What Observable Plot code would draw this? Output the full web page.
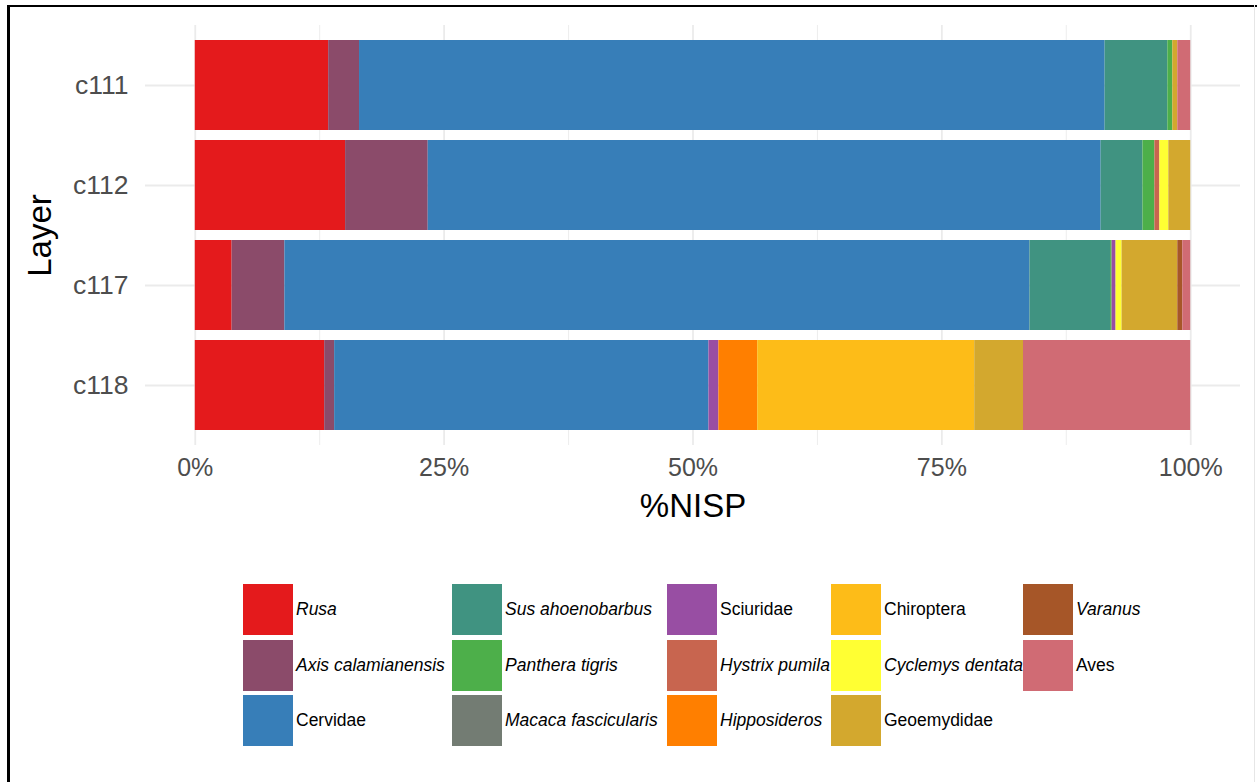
<!DOCTYPE html>
<html>
<head>
<meta charset="utf-8">
<script src="https://cdn.jsdelivr.net/npm/d3@7"></script>
<script src="https://cdn.jsdelivr.net/npm/@observablehq/plot@0.6"></script>
<style>
  html, body { margin: 0; padding: 0; background: #fff; }
  #wrap { position: relative; width: 1257px; height: 782px; overflow: hidden; background: #fff; font-family: "Liberation Sans", Arial, sans-serif; }
  #chart { position: absolute; left: 0; top: 0; }
  .bt { position: absolute; left: 7px; top: 5px; width: 1250px; height: 2px; background: #000; }
  .bl { position: absolute; left: 7px; top: 5px; width: 3px; height: 777px; background: #000; }
  .br { position: absolute; left: 1254px; top: 5px; width: 1px; height: 777px; background: #e6e6e6; }
  .key { position: absolute; width: 50px; height: 51px; }
  .lab { position: absolute; font-size: 17.5px; color: #000; line-height: 20px; white-space: nowrap; }
  .it { font-style: italic; }
</style>
</head>
<body>
<div id="wrap">
  <div id="chart"></div>
  <div id="legend"></div>
  <div class="bt"></div><div class="bl"></div><div class="br"></div>
</div>
<script>
// ---- data ----
const layers = ["c111", "c112", "c117", "c118"];
const taxa = ["Rusa", "Axis calamianensis", "Cervidae", "Sus ahoenobarbus", "Panthera tigris",
  "Macaca fascicularis", "Sciuridae", "Hystrix pumila", "Hipposideros", "Chiroptera",
  "Cyclemys dentata", "Geoemydidae", "Varanus", "Aves"];
const italicTaxa = ["Rusa", "Axis calamianensis", "Sus ahoenobarbus", "Panthera tigris",
  "Macaca fascicularis", "Hystrix pumila", "Hipposideros", "Cyclemys dentata", "Varanus"];
const taxaColors = ["#E41A1C", "#8B4B6A", "#377EB8", "#409381", "#4DAF4A",
  "#737C73", "#984EA3", "#C8654F", "#FF7F00", "#FDBC18",
  "#FFFF33", "#D3A82E", "#A65628", "#D06B74"];
// %NISP per layer, in taxa order
const c111 = [13.4, 3.1, 74.9, 6.3, 0.5, 0, 0, 0, 0, 0, 0, 0.5, 0, 1.3];
const c112 = [15.1, 8.3, 67.6, 4.2, 1.2, 0, 0, 0.5, 0, 0, 0.9, 2.2, 0, 0];
const c117 = [3.7, 5.3, 74.85, 8.1, 0.15, 0, 0.4, 0, 0, 0, 0.6, 5.6, 0.5, 0.8];
const c118 = [13.0, 1.0, 37.6, 0, 0, 0, 1.0, 0, 3.9, 21.8, 0, 4.9, 0, 16.8];
const xMajor = [0, 25, 50, 75, 100];
const xMinor = [12.5, 37.5, 62.5, 87.5];

const valuesByLayer = { c111, c112, c117, c118 };
const data = [];
for (const layer of layers) {
  taxa.forEach((t, i) => data.push({ layer, taxon: t, value: valuesByLayer[layer][i] }));
}

const plot = Plot.plot({
  width: 1257,
  height: 540,
  marginLeft: 145,
  marginRight: 17,
  marginTop: 25,
  marginBottom: 95,
  style: { fontFamily: "'Liberation Sans', Arial, sans-serif", color: "#4d4d4d", background: "transparent", overflow: "visible" },
  x: { domain: [-5, 105] },
  y: { domain: layers, paddingInner: 0.1, paddingOuter: 0.15 },
  color: { domain: taxa, range: taxaColors },
  marks: [
    Plot.ruleX(xMinor, { stroke: "#ededed", strokeWidth: 1 }),
    Plot.ruleX(xMajor, { stroke: "#ebebeb", strokeWidth: 1.8 }),
    Plot.ruleY(layers, { y: d => d, stroke: "#ebebeb", strokeWidth: 1.8 }),
    Plot.barX(data, { x: "value", y: "layer", fill: "taxon" }),
    Plot.axisX({ ticks: xMajor, tickFormat: d => d + "%", tickSize: 0, tickPadding: 13, fontSize: 25, label: null }),
    Plot.axisY({ tickSize: 0, tickPadding: 17, fontSize: 26.5, label: null }),
    Plot.text(["%NISP"], { text: d => d, frameAnchor: "bottom", lineAnchor: "middle", textAnchor: "middle", dy: 61, fontSize: 33, fill: "#000" }),
    Plot.text(["Layer"], { text: d => d, frameAnchor: "left", lineAnchor: "middle", textAnchor: "middle", dx: -105, rotate: -90, fontSize: 33, fill: "#000" })
  ]
});
document.getElementById("chart").appendChild(plot);

// ---- legend (column-major, 3 rows x 5 columns) ----
const color = plot.scale("color");
const colorFn = d3.scaleOrdinal(color.domain, color.range);
const keyX = [243, 452, 667, 831, 1023];
const rowY = [584, 640, 695];
const legend = document.getElementById("legend");
taxa.forEach((t, i) => {
  const col = Math.floor(i / 3), row = i % 3;
  const k = document.createElement("div");
  k.className = "key";
  k.style.left = keyX[col] + "px";
  k.style.top = rowY[row] + "px";
  k.style.background = colorFn(t);
  legend.appendChild(k);
  const l = document.createElement("div");
  l.className = "lab" + (italicTaxa.includes(t) ? " it" : "");
  l.style.left = (keyX[col] + 53) + "px";
  l.style.top = (rowY[row] + 15) + "px";
  l.textContent = t;
  legend.appendChild(l);
});
</script>
</body>
</html>
